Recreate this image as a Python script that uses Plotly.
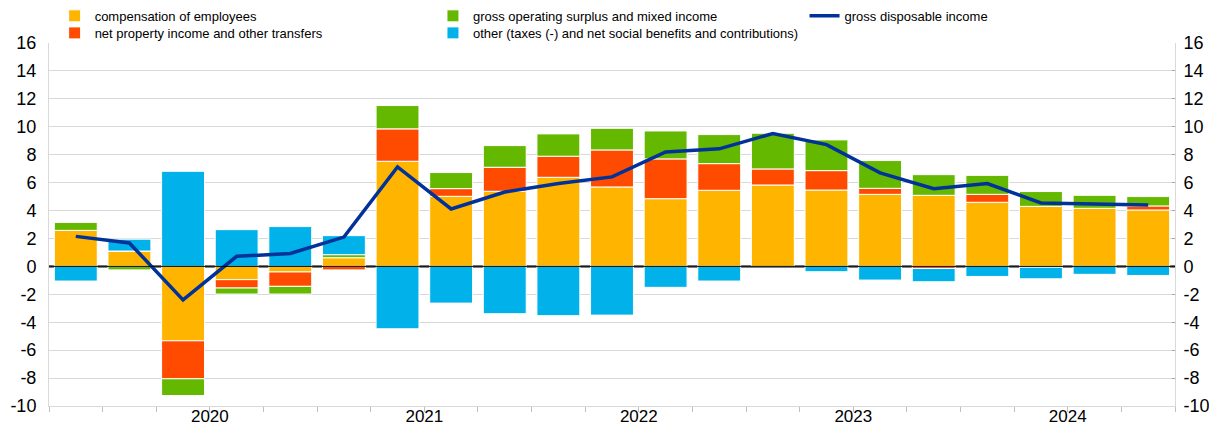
import plotly.graph_objects as go

quarters = ["2019Q4",
            "2020Q1", "2020Q2", "2020Q3", "2020Q4",
            "2021Q1", "2021Q2", "2021Q3", "2021Q4",
            "2022Q1", "2022Q2", "2022Q3", "2022Q4",
            "2023Q1", "2023Q2", "2023Q3", "2023Q4",
            "2024Q1", "2024Q2", "2024Q3", "2024Q4"]

comp_employees = [2.58, 1.10, -5.33, -0.95, -0.40, 0.62, 7.53, 5.02, 5.38, 6.38, 5.69,
                  4.85, 5.45, 5.83, 5.47, 5.16, 5.09, 4.59, 4.30, 4.16, 4.04]
net_property = [0.00, 0.00, -2.72, -0.60, -1.03, -0.25, 2.32, 0.55, 1.72, 1.51, 2.65,
                2.85, 1.91, 1.15, 1.39, 0.43, -0.15, 0.57, -0.06, 0.00, 0.29]
gross_surplus = [0.57, -0.25, -1.20, -0.43, -0.55, 0.22, 1.67, 1.15, 1.55, 1.60, 1.55,
                 2.00, 2.08, 2.58, 2.20, 1.99, 1.48, 1.36, 1.06, 0.93, 0.67]
other = [-1.05, 0.85, 6.81, 2.63, 2.85, 1.36, -4.47, -2.63, -3.39, -3.53, -3.49,
         -1.50, -1.05, 0.00, -0.38, -0.98, -0.95, -0.72, -0.83, -0.57, -0.65]
gross_disposable = [2.15, 1.68, -2.40, 0.72, 0.93, 2.10, 7.12, 4.11, 5.33, 5.93, 6.41,
                    8.20, 8.42, 9.52, 8.72, 6.70, 5.57, 5.93, 4.54, 4.47, 4.40]

y_ticks = [-10, -8, -6, -4, -2, 0, 2, 4, 6, 8, 10, 12, 14, 16]
y_ticktext = [str(v) for v in y_ticks]

names = ["compensation of employees",
         "net property income and other transfers",
         "gross operating surplus and mixed income",
         "other (taxes (-) and net social benefits and contributions)",
         "gross disposable income"]
colors = ["#FFB400", "#FF4B00", "#65B800", "#00B1EA", "#003299"]

x = list(range(len(quarters)))
years = sorted(set(q[:4] for q in quarters if q[:4] != "2019"))
year_pos = [sum(i for i, q in enumerate(quarters) if q.startswith(y)) /
            sum(1 for q in quarters if q.startswith(y)) for y in years]
boundaries = [i - 0.5 for i in range(len(quarters) + 1)]
xrange_ = [-0.5, len(quarters) - 0.5]

fig = go.Figure()
series = [comp_employees, net_property, gross_surplus, other]
legend_ids = ["legend", "legend2", "legend3", "legend4", "legend5"]
for vals, name, col, lg in zip(series, names[:4], colors[:4], legend_ids[:4]):
    fig.add_trace(go.Bar(x=x, y=vals, name=name, marker_color=col,
                         marker_line_color="white", marker_line_width=1,
                         legend=lg))

fig.add_trace(go.Scatter(x=x, y=gross_disposable, name=names[4], mode="lines",
                         line=dict(color=colors[4], width=3.5),
                         xaxis="x2", yaxis="y2", legend=legend_ids[4]))

font = dict(family="Liberation Sans, Arial, sans-serif", color="#000000")
leg_common = dict(xanchor="left", yanchor="top", orientation="v",
                  font=dict(size=13), bgcolor="rgba(0,0,0,0)")
row1, row2 = 1.116, 1.069
col1, col2, col3 = 0.005, 0.341, 0.671

fig.update_layout(
    width=1209, height=419,
    margin=dict(l=41, r=42, t=35, b=21, autoexpand=False),
    paper_bgcolor="white", plot_bgcolor="white",
    barmode="relative", bargap=0.2,
    font=dict(**font, size=18),
    showlegend=True,
    xaxis=dict(range=xrange_, tickvals=boundaries, showticklabels=False,
               ticks="outside", ticklen=5, tickcolor="#bfbfbf",
               showgrid=False, showline=True, linecolor="#d9d9d9", linewidth=1,
               zeroline=False),
    xaxis2=dict(range=xrange_, overlaying="x", side="bottom", anchor="y2",
                tickvals=year_pos, ticktext=years, ticks="", showgrid=False,
                showline=False, zeroline=False, tickfont=dict(size=17),
                ticklabelstandoff=-2),
    yaxis=dict(range=[-10, 16], tickvals=y_ticks, ticktext=y_ticktext,
               showgrid=True, gridcolor="#d9d9d9",
               gridwidth=1, zeroline=False, showline=True, linecolor="#d9d9d9",
               ticks="", tickfont=dict(size=18), ticklabelstandoff=8),
    yaxis2=dict(range=[-10, 16], tickvals=y_ticks, ticktext=y_ticktext,
                overlaying="y", side="right", anchor="x2",
                showgrid=False, zeroline=False, showline=True, linecolor="#d9d9d9",
                ticks="inside", ticklen=3, tickcolor="#a6a6a6",
                tickfont=dict(size=18), ticklabelstandoff=4),
    legend=dict(x=col1, y=row1, **leg_common),
    legend2=dict(x=col1, y=row2, **leg_common),
    legend3=dict(x=col2, y=row1, **leg_common),
    legend4=dict(x=col2, y=row2, **leg_common),
    legend5=dict(x=col3, y=row1, **leg_common),
    shapes=[
        dict(type="line", xref="paper", yref="y", x0=0, x1=1, y0=0, y1=0,
             line=dict(color="#808080", width=3), layer="below"),
        dict(type="line", xref="paper", yref="y", x0=0, x1=1, y0=0, y1=0,
             line=dict(color="#000000", width=1), layer="above"),
    ],
)

fig.write_html("out.html")
